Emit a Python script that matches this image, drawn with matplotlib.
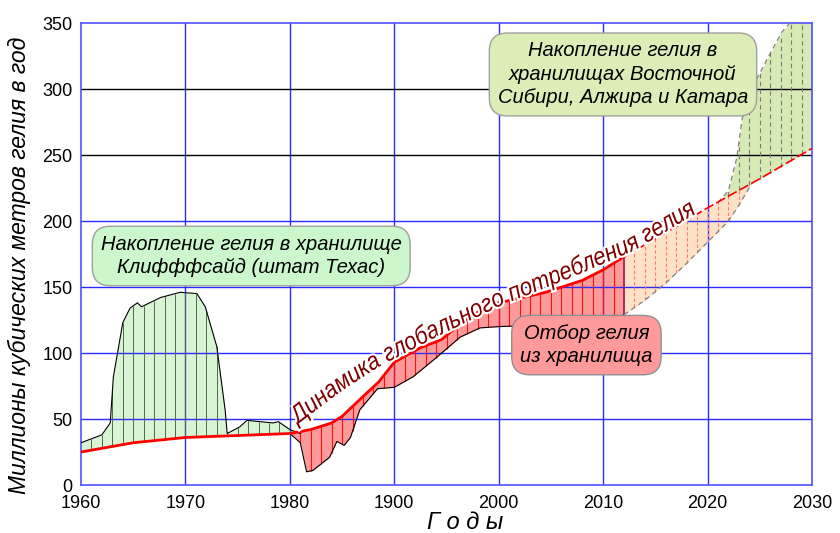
import numpy as np
import matplotlib.pyplot as plt
from matplotlib import patheffects as pe
from matplotlib.font_manager import FontProperties
from matplotlib.textpath import TextPath
from matplotlib.patches import PathPatch
from matplotlib.transforms import Affine2D

plt.rcParams['font.family'] = ['Liberation Sans', 'DejaVu Sans']

# --- data ---
year_ticks = [1960, 1970, 1980, 1990, 2000, 2010, 2020, 2030]
year_labels = ['1960', '1970', '1980', '1900', '2000', '2010', '2020', '2030']
value_ticks = [0, 50, 100, 150, 200, 250, 300, 350]

# global consumption (solid part)
cons_years = [1960, 1965, 1970, 1975, 1980, 1982, 1984, 1985, 1987, 1988.5, 1990,
              1992.5, 1994.5, 1996, 1998, 2000, 2004.5, 2008, 2010, 2012]
cons_vals = [25, 32, 36, 37.5, 39, 42, 47, 52, 67, 78, 93,
             104, 110, 120, 131, 138, 146, 155, 163, 173]
# consumption forecast (dashed part)
proj_years = [2012, 2016, 2020, 2025, 2030]
proj_vals = [173, 191, 210, 232, 255]

# Cliffside (Texas) storage upper edge
tx_years = [1960, 1962, 1962.8, 1963.1, 1963.5, 1964, 1964.7, 1965.4, 1965.8, 1967.6,
            1969.5, 1971.1, 1971.9, 1973, 1973.8, 1974, 1975.2, 1975.9, 1977.1,
            1978.4, 1978.9, 1980, 1981]
tx_vals = [32, 38, 47, 82, 100, 123, 134, 138, 135, 142,
           146, 145, 135, 105, 57, 39, 44, 49, 48,
           47, 48, 42, 39]

# withdrawal from storage, lower edge
wd_years = [1980, 1981, 1981.6, 1982.2, 1983.8, 1984.5, 1985.2, 1985.8, 1986.7, 1988.4,
            1990, 1991.8, 1994.1, 1996.3, 1998.2, 2000, 2010, 2012]
wd_vals = [39, 32, 10, 11, 21, 33, 30, 36, 57, 73,
           74, 82, 97, 112, 119, 120, 123, 129]

# forecast withdrawal, lower edge
fw_years = [2012, 2014, 2016, 2018, 2020, 2022, 2023, 2024.2]
fw_vals = [129, 140, 153, 168, 184, 200, 212, 228]

# East Siberia / Algeria / Qatar storage, upper edge
es_years = [2021, 2022, 2022.8, 2023.3, 2023.8, 2024.8, 2026, 2027.1, 2028.1, 2030]
es_vals = [214, 223, 248, 277, 292, 309, 327, 343, 352, 360]

W, H = 840, 533
fig = plt.figure(figsize=(W / 100, H / 100), dpi=100)
ax = fig.add_axes([81 / W, 48 / H, 731 / W, 462 / H])
ax.set_xlim(1960, 2030)
ax.set_ylim(0, 350)

grid_blue = '#2a2aff'
for x in year_ticks[1:-1]:
    ax.axvline(x, color=grid_blue, lw=1, zorder=2)
for y in value_ticks[1:-1]:
    ax.axhline(y, color='black' if y >= 250 else grid_blue, lw=1, zorder=2)
for s in ax.spines.values():
    s.set_color('#5050ff')
    s.set_linewidth(1.2)


def at(xs, xp, fp):
    return np.interp(xs, xp, fp)


fine = np.linspace(1960, 2030, 1401)

# Texas storage
m = fine <= 1981
ax.fill_between(fine[m], at(fine[m], cons_years, cons_vals), at(fine[m], tx_years, tx_vals),
                color='#d8f5d3', lw=0, zorder=1)
ax.plot(tx_years, tx_vals, color='black', lw=0.8, zorder=4)
yy = np.arange(1961, 1981)
ax.vlines(yy, at(yy, cons_years, cons_vals), at(yy, tx_years, tx_vals),
          color='#4f6a4f', lw=0.7, zorder=3)

# withdrawal
m = (fine >= 1980) & (fine <= 2012)
ax.fill_between(fine[m], at(fine[m], wd_years, wd_vals), at(fine[m], cons_years, cons_vals),
                color='#ff9a9a', lw=0, zorder=1)
ax.plot(wd_years, wd_vals, color='black', lw=0.8, zorder=4)
yy = np.arange(1981, 2012)
ax.vlines(yy, at(yy, wd_years, wd_vals), at(yy, cons_years, cons_vals),
          color='#ff1010', lw=0.8, zorder=3)
ax.vlines(2012, wd_vals[-1], cons_vals[-1], color='#a0205a', lw=1.3, zorder=3)

# forecast withdrawal
m = (fine >= 2012) & (fine <= fw_years[-1])
ax.fill_between(fine[m], at(fine[m], fw_years, fw_vals), at(fine[m], proj_years, proj_vals),
                color='#fde2c6', lw=0, zorder=1)
ax.plot(fw_years, fw_vals, color='#808080', lw=0.9, ls=(0, (4, 3)), zorder=4)
yy = np.arange(2013, 2024)
ax.vlines(yy, at(yy, fw_years, fw_vals), at(yy, proj_years, proj_vals),
          color='#ff7a7a', lw=0.8, ls=(0, (3, 2)), zorder=3)

# East storages
m = fine >= es_years[0]
ax.fill_between(fine[m], at(fine[m], proj_years, proj_vals), at(fine[m], es_years, es_vals),
                color='#d7e9b4', lw=0, zorder=1)
ax.plot(es_years, es_vals, color='#808080', lw=0.9, ls=(0, (4, 3)), zorder=4)
yy = np.arange(2022, 2030)
ax.vlines(yy, at(yy, proj_years, proj_vals), at(yy, es_years, es_vals),
          color='#7a7a7a', lw=0.8, ls=(0, (4, 3)), zorder=3)

# consumption line
ax.plot(cons_years, cons_vals, color='#ff0000', lw=2, zorder=5)
ax.plot(proj_years, proj_vals, color='#ff0000', lw=1.2, ls=(0, (6, 2)), zorder=5)

ax.set_xticks(year_ticks)
ax.set_xticklabels(year_labels)
ax.set_yticks(value_ticks)
ax.tick_params(length=0, labelsize=13, pad=6)
ax.tick_params(axis='x', pad=7)
ax.set_xlabel('Г о д ы', fontsize=17, style='italic')
ax.xaxis.set_label_coords(0.525, -0.056)
ax.set_ylabel('Миллионы кубических метров гелия в год', fontsize=16.5, style='italic')
ax.yaxis.set_label_coords(-0.068, 0.476)

box_kw = dict(ha='center', va='center', fontsize=14.5, style='italic', linespacing=1.3, zorder=10)
ax.text(1976.3, 173.5, 'Накопление гелия в хранилище\nКлифффсайд (штат Техас)',
        bbox=dict(boxstyle='round,pad=0.42,rounding_size=0.9', fc='#ccf7cc', ec='#a0a0a0', lw=1),
        **box_kw)
ax.text(2011.9, 311, 'Накопление гелия в\nхранилищах Восточной\nСибири, Алжира и Катара',
        bbox=dict(boxstyle='round,pad=0.42,rounding_size=0.9', fc='#dcedb8', ec='#a0a0a0', lw=1),
        **box_kw)
ax.text(2008.4, 106, 'Отбор гелия\nиз хранилища',
        bbox=dict(boxstyle='round,pad=0.42,rounding_size=0.9', fc='#ff9a9a', ec='#909090', lw=1),
        **box_kw)

# curved label along the consumption line (baseline in figure pixels)
label = 'Динамика глобального потребления гелия'
base_px = [(298, 424), (340, 392), (380, 366), (440, 335), (500, 306),
           (570, 278), (635, 250), (697, 213)]
prop = FontProperties(family=['Liberation Sans', 'DejaVu Sans'], style='italic', size=18)
r = fig.canvas.get_renderer()
k = fig.dpi / 72.0
pts = np.array(base_px, float)
pts[:, 1] = H - pts[:, 1]
cum = np.concatenate([[0], np.cumsum(np.hypot(*np.diff(pts, axis=0).T))])
ref = r.get_text_width_height_descent('|', prop, ismath=False)[0]
full = r.get_text_width_height_descent(label + '|', prop, ismath=False)[0] - ref
sx = cum[-1] / full
for i, ch in enumerate(label):
    if ch == ' ':
        continue
    x0 = r.get_text_width_height_descent(label[:i] + '|', prop, ismath=False)[0] - ref
    w = r.get_text_width_height_descent(ch, prop, ismath=False)[0]
    s = sx * (x0 + w / 2)
    px, py = np.interp(s, cum, pts[:, 0]), np.interp(s, cum, pts[:, 1])
    x1, y1 = np.interp(s - 15, cum, pts[:, 0]), np.interp(s - 15, cum, pts[:, 1])
    x2, y2 = np.interp(s + 15, cum, pts[:, 0]), np.interp(s + 15, cum, pts[:, 1])
    ang = np.arctan2(y2 - y1, x2 - x1)
    tp = TextPath((0, 0), ch, prop=prop)
    tr = (Affine2D().translate(-w / (2 * k), 0).scale(k * sx, k)
          .rotate(ang).translate(px, py))
    patch = PathPatch(tp, transform=tr, fc='#800000', ec='none', zorder=8,
                      path_effects=[pe.withStroke(linewidth=3, foreground='white')])
    fig.add_artist(patch)

fig.savefig('out.png', dpi=100)
